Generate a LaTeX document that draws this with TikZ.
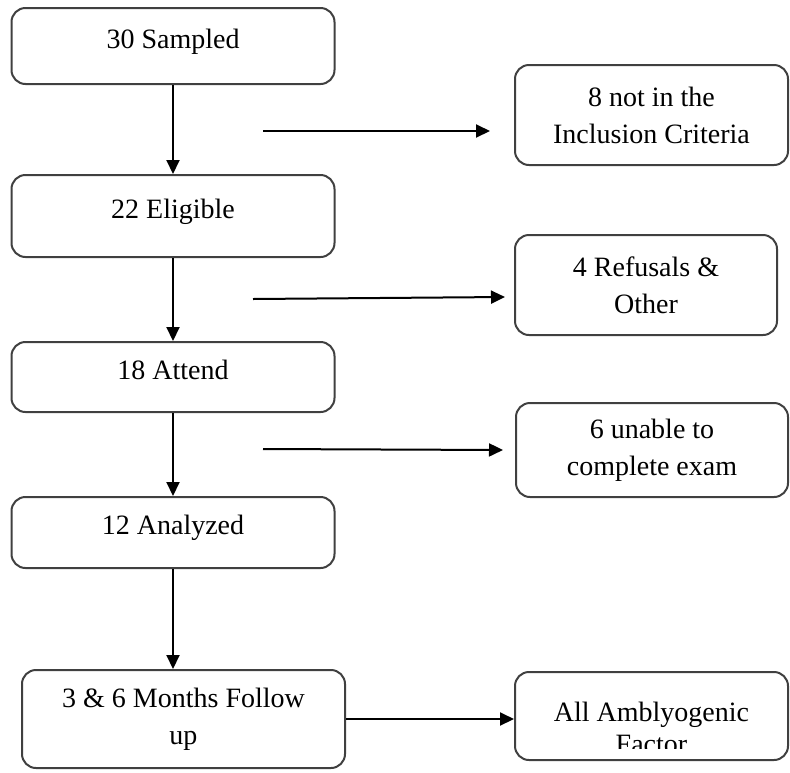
\documentclass[tikz,border=0pt]{standalone}
\usepackage{fontspec}
\setmainfont{Liberation Serif}
\usetikzlibrary{arrows.meta}
\begin{document}
\begin{tikzpicture}[x=1pt,y=-1pt,
  box/.style={draw=black!75, line width=2pt, rounded corners=14pt,
    font=\fontsize{28}{37}\selectfont, align=center, inner sep=0pt},
  lbox/.style={box, minimum width=323pt},
  one/.style={text height=20pt, text depth=16pt},
  txt/.style={font=\fontsize{28}{32}\selectfont, align=center, inner sep=0pt},
  arr/.style={line width=2pt, -{Triangle[length=14pt,width=13pt]}}]
\useasboundingbox (0,0) rectangle (790,772);

% left column
\node[lbox, one, minimum height=76pt] (s) at (173,46) {30 Sampled};
\node[lbox, one, minimum height=82pt] (e) at (173,216) {22 Eligible};
\node[lbox, one, minimum height=70pt] (a) at (173,377) {18 Attend};
\node[lbox, one, minimum height=71pt] (z) at (173,532.5) {12 Analyzed};
\node[lbox, minimum height=98pt] (f) at (183.5,719) {3 \& 6 Months Follow\\up};

% right column
\node[box, minimum width=273pt, minimum height=100pt] (r1) at (651.5,115) {8 not in the\\Inclusion Criteria};
\node[box, minimum width=262pt, minimum height=100pt] (r2) at (646,285) {4 Refusals \&\\Other};
\node[box, minimum width=272pt, minimum height=94pt] (r3) at (652,450) {6 unable to\\complete exam};
\node[box, minimum width=273pt, minimum height=88pt] (r4) at (651.5,716) {};
\begin{scope}
  \clip (r4.north west) rectangle ([yshift=13pt]r4.south east);
  \node[txt] (r4t) at ([yshift=-11.5pt]r4.center) {All Amblyogenic\\Factor};
\end{scope}

% vertical connectors
\draw[arr] (s.south) -- (e.north);
\draw[arr] (e.south) -- (a.north);
\draw[arr] (a.south) -- (z.north);
\draw[arr] (z.south) -- (z.south |- f.north);

% horizontal connectors
\coordinate (h1a) at (263,131);
\coordinate (h1b) at (490,131);
\coordinate (h2a) at (253,299);
\coordinate (h2b) at (505,297);
\coordinate (h3a) at (263,449);
\coordinate (h3b) at (503,450);
\draw[arr] (h1a) -- (h1b);
\draw[arr] (h2a) -- (h2b);
\draw[arr] (h3a) -- (h3b);
\draw[arr] (f.east) -- (f.east -| r4.west);
\end{tikzpicture}
\end{document}
